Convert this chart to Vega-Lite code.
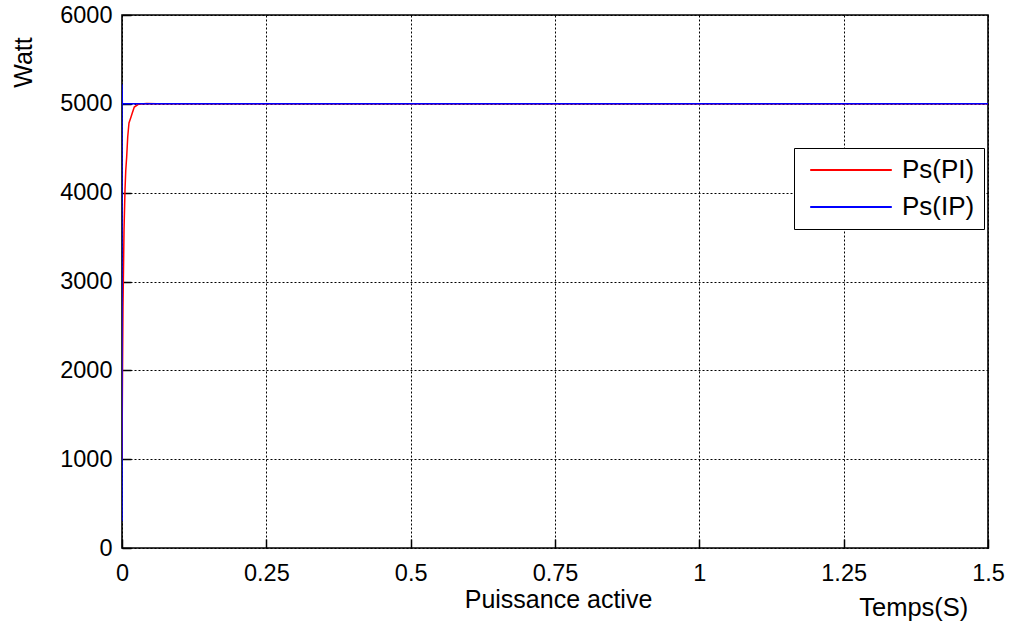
{
  "$schema": "https://vega.github.io/schema/vega-lite/v6.json",
  "autosize": "none",
  "width": 866,
  "height": 533,
  "padding": {"left": 122, "top": 15, "right": 24, "bottom": 74},
  "background": "white",
  "config": {
    "font": "Liberation Sans",
    "view": {"stroke": "black", "strokeWidth": 1.6},
    "axis": {
      "domain": false,
      "grid": true,
      "gridColor": "black",
      "gridDash": [2, 2],
      "gridWidth": 1,
      "gridOpacity": 1,
      "tickColor": "black",
      "tickSize": -9,
      "tickWidth": 1.5,
      "labelColor": "black",
      "labelFont": "Liberation Sans",
      "labelFontSize": 23.5,
      "labelFlush": false,
      "labelOverlap": false,
      "titleFont": "Liberation Sans",
      "titleFontWeight": "normal",
      "titleColor": "black",
      "titleFontSize": 25
    }
  },
  "title": {
    "text": "Temps(S)",
    "orient": "bottom",
    "anchor": "end",
    "font": "Liberation Sans",
    "fontSize": 25.5,
    "fontWeight": "normal",
    "color": "black",
    "dx": -36,
    "offset": -16
  },
  "data": {
    "values": [
      {"t": 0, "p": 1000, "s": "Ps(PI)", "i": 0},
      {"t": 0.0008, "p": 1900, "s": "Ps(PI)", "i": 1},
      {"t": 0.0017, "p": 2713, "s": "Ps(PI)", "i": 2},
      {"t": 0.0035, "p": 3580, "s": "Ps(PI)", "i": 3},
      {"t": 0.0052, "p": 4030, "s": "Ps(PI)", "i": 4},
      {"t": 0.0065, "p": 4250, "s": "Ps(PI)", "i": 5},
      {"t": 0.0081, "p": 4402, "s": "Ps(PI)", "i": 6},
      {"t": 0.0099, "p": 4627, "s": "Ps(PI)", "i": 7},
      {"t": 0.0121, "p": 4784, "s": "Ps(PI)", "i": 8},
      {"t": 0.0156, "p": 4852, "s": "Ps(PI)", "i": 9},
      {"t": 0.0178, "p": 4897, "s": "Ps(PI)", "i": 10},
      {"t": 0.0213, "p": 4964, "s": "Ps(PI)", "i": 11},
      {"t": 0.0282, "p": 4995, "s": "Ps(PI)", "i": 12},
      {"t": 0.0427, "p": 5005, "s": "Ps(PI)", "i": 13},
      {"t": 0.06, "p": 5000, "s": "Ps(PI)", "i": 14},
      {"t": 1.5, "p": 5000, "s": "Ps(PI)", "i": 15},
      {"t": 0, "p": 300, "s": "Ps(IP)", "i": 0},
      {"t": 0, "p": 5220, "s": "Ps(IP)", "i": 1},
      {"t": 0.0006, "p": 5000, "s": "Ps(IP)", "i": 2},
      {"t": 1.5, "p": 5000, "s": "Ps(IP)", "i": 3}
    ]
  },
  "encoding": {
    "x": {
      "field": "t",
      "type": "quantitative",
      "scale": {"domain": [0, 1.5], "nice": false, "zero": false},
      "axis": {
        "values": [0, 0.25, 0.5, 0.75, 1, 1.25, 1.5],
        "labelExpr": "'' + datum.value",
        "labelPadding": 22,
        "title": "Puissance active",
        "titleX": 436,
        "titleY": 59,
        "titleAlign": "center",
        "titleBaseline": "alphabetic"
      }
    },
    "y": {
      "field": "p",
      "type": "quantitative",
      "scale": {"domain": [0, 6000], "nice": false},
      "axis": {
        "values": [0, 1000, 2000, 3000, 4000, 5000, 6000],
        "format": "d",
        "labelPadding": 19,
        "title": "Watt",
        "titleAngle": -90,
        "titleX": -111,
        "titleY": 47,
        "titleAlign": "center",
        "titleBaseline": "top"
      }
    },
    "color": {
      "field": "s",
      "type": "nominal",
      "scale": {"domain": ["Ps(PI)", "Ps(IP)"], "range": ["#ff0000", "#0000ff"]},
      "legend": {
        "title": null,
        "orient": "none",
        "legendX": 672,
        "legendY": 133,
        "direction": "vertical",
        "fillColor": "white",
        "strokeColor": "black",
        "padding": 9,
        "symbolType": "M-3.4,0H3.4",
        "symbolSize": 576,
        "symbolOffset": 35,
        "symbolStrokeWidth": 1.8,
        "labelFont": "Liberation Sans",
        "labelFontSize": 26,
        "labelColor": "black",
        "labelOffset": 38,
        "rowPadding": 11
      }
    },
    "order": {"field": "i", "type": "quantitative"}
  },
  "layer": [
    {
      "transform": [{"filter": "datum.s === 'Ps(PI)'"}],
      "mark": {"type": "line", "strokeWidth": 1.5, "clip": true}
    },
    {
      "transform": [{"filter": "datum.s === 'Ps(IP)'"}],
      "mark": {"type": "line", "strokeWidth": 1.5, "clip": true}
    }
  ]
}
